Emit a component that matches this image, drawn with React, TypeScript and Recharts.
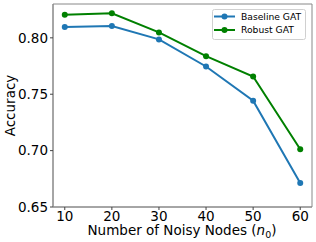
import React from "react";
import {
  Label,
  Legend,
  Line,
  LineChart,
  ReferenceArea,
  XAxis,
  YAxis,
} from "recharts";

const noisyNodes = [10, 20, 30, 40, 50, 60];
const baselineGat = [0.8095, 0.8104, 0.7986, 0.7746, 0.7443, 0.6712];
const robustGat = [0.8204, 0.8217, 0.8048, 0.7837, 0.7657, 0.7012];
const yTicks = [0.65, 0.7, 0.75, 0.8];

const BLUE = "#1f77b4";
const GREEN = "#008000";
const FONT = "DejaVu Sans";

const data = noisyNodes.map((n, i) => ({
  n,
  baseline: baselineGat[i],
  robust: robustGat[i],
}));

function LegendBox() {
  const rows = [
    { name: "Baseline GAT", color: BLUE },
    { name: "Robust GAT", color: GREEN },
  ];
  return (
    <svg width={94} height={31} style={{ display: "block" }}>
      <rect x={0.5} y={0.5} width={93} height={30} rx={2} fill="#fff" stroke="#d0d0d0" />
      {rows.map((r, i) => {
        const cy = 7.5 + i * 13.5;
        return (
          <g key={r.name}>
            <line x1={2} x2={23} y1={cy} y2={cy} stroke={r.color} strokeWidth={2} />
            <circle cx={12.5} cy={cy} r={3} fill={r.color} />
            <text x={29} y={cy} dy="0.35em" fontSize={9.2} fontFamily={FONT} fill="#000">
              {r.name}
            </text>
          </g>
        );
      })}
    </svg>
  );
}

function XTitle(props: any) {
  const vb = props.viewBox || {};
  const cx = 182;
  return (
    <text x={cx} y={vb.y + 28} textAnchor="middle" fontSize={13.5} fontFamily={FONT} fill="#000">
      Number of Noisy Nodes (
      <tspan fontStyle="italic">n</tspan>
      <tspan fontSize={9.5} dy={3}>0</tspan>
      <tspan dy={-3}>)</tspan>
    </text>
  );
}

function YTitle(props: any) {
  const vb = props.viewBox || {};
  const cy = (vb.y ?? 4) + (vb.height ?? 203) / 2;
  const cx = 9.5;
  return (
    <text
      x={cx}
      y={cy}
      transform={`rotate(-90 ${cx} ${cy})`}
      textAnchor="middle"
      dominantBaseline="central"
      fontSize={13.5}
      fontFamily={FONT}
      fill="#000"
    >
      Accuracy
    </text>
  );
}

export default function App() {
  return (
    <div style={{ position: "fixed", left: 0, top: 0, background: "#fff" }}>
      <LineChart
        width={316}
        height={242}
        data={data}
        margin={{ top: 4, right: 4, left: 0, bottom: 0 }}
      >
        <XAxis
          dataKey="n"
          type="number"
          domain={[7.5, 62.5]}
          ticks={noisyNodes}
          allowDataOverflow
          height={35}
          stroke="#888"
          tickSize={3}
          tickMargin={1}
          tickLine={{ stroke: "#444" }}
          tick={{ fill: "#000", fontSize: 13.5, fontFamily: FONT }}
        >
          <Label content={<XTitle />} />
        </XAxis>
        <YAxis
          type="number"
          domain={[0.65, 0.83]}
          ticks={yTicks}
          allowDataOverflow
          width={53}
          stroke="#888"
          tickSize={3}
          tickMargin={2}
          tickLine={{ stroke: "#444" }}
          tickFormatter={(v: number) => v.toFixed(2)}
          tick={{ fill: "#000", fontSize: 13.5, fontFamily: FONT }}
        >
          <Label content={<YTitle />} />
        </YAxis>
        <ReferenceArea
          x1={7.5}
          x2={62.5}
          y1={0.65}
          y2={0.83}
          fill="none"
          stroke="#888"
          strokeWidth={1}
          ifOverflow="visible"
        />
        <Line
          dataKey="baseline"
          stroke={BLUE}
          strokeWidth={2}
          dot={{ r: 3, fill: BLUE, stroke: BLUE, strokeWidth: 0 }}
          isAnimationActive={false}
        />
        <Line
          dataKey="robust"
          stroke={GREEN}
          strokeWidth={2}
          dot={{ r: 3, fill: GREEN, stroke: GREEN, strokeWidth: 0 }}
          isAnimationActive={false}
        />
        <Legend
          layout="vertical"
          align="center"
          verticalAlign="middle"
          wrapperStyle={{ top: 9, left: 212, width: 94 }}
          content={() => <LegendBox />}
        />
      </LineChart>
    </div>
  );
}
